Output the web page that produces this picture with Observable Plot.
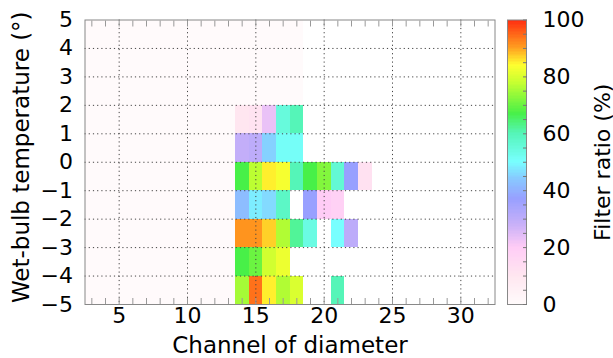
<!DOCTYPE html>
<html>
<head>
<meta charset="utf-8">
<script src="https://cdn.jsdelivr.net/npm/d3@7"></script>
<script src="https://cdn.jsdelivr.net/npm/@observablehq/plot@0.6"></script>
<style>
  html, body { margin: 0; padding: 0; background: #fff; }
  #wrap { position: relative; width: 613px; height: 358px; }
  #wrap svg { position: absolute; left: 0; top: 0; }
</style>
</head>
<body>
<div id="wrap"></div>
<script>
// Channels (x) and wet-bulb temperature rows (y, lower edge of each cell)
const channels = [3,4,5,6,7,8,9,10,11,12,13,14,15,16,17,18,19,20,21,22,23];
const temps = [-5,-4,-3,-2,-1,0,1,2,3,4];

// Filter ratio (%) per row, one value per channel above (null = no data)
const ratio_m5 = [0,0,0,0,0,0,0,0,0,0,0, 75,94,85,76,80, null,null,60,null,null];
const ratio_m4 = [0,0,0,0,0,0,0,0,0,0,0, 67,70,79,82,null, null,null,null,null,null];
const ratio_m3 = [0,0,0,0,0,0,0,0,0,0,0, 91,91,87,76,62, 54,null,50,30,null];
const ratio_m2 = [0,0,0,0,0,0,0,0,0,0,0, 42,48,46,58,null, 37,20,18,null,null];
const ratio_m1 = [0,0,0,0,0,0,0,0,0,0,0, 67,77,85,83,60, 67,72,56,37,12];
const ratio_0  = [0,0,0,0,0,0,0,0,0,0,0, 29,30,45,51,51, null,null,null,null,null];
const ratio_1  = [0,0,0,0,0,0,0,0,0,0,0, 10,11,23,55,60, null,null,null,null,null];
const ratio_2  = [0,0,0,0,0,0,0,0,0,0,0, 0,0,0,0,0, null,null,null,null,null];
const ratio_3  = [0,0,0,0,0,0,0,0,0,0,0, 0,0,0,0,0, null,null,null,null,null];
const ratio_4  = [0,0,0,0,0,0,0,0,0,0,0, 0,0,0,0,0, null,null,null,null,null];
const rows = [ratio_m5, ratio_m4, ratio_m3, ratio_m2, ratio_m1, ratio_0, ratio_1, ratio_2, ratio_3, ratio_4];

// Ticks
const xMajor = [5,10,15,20,25,30];
const xMinor = d3.range(3, 33);
const yTicks = [-5,-4,-3,-2,-1,0,1,2,3,4,5];
const yGrid = [-4,-3,-2,-1,0,1,2,3,4];
const cbTicks = [0,20,40,60,80,100];
const cbMinor = d3.range(0, 101, 5);

// Palette (stops of the colour bar)
const palStops  = [0, 10, 20, 28, 37, 44, 50, 60, 67, 78, 84, 90, 100];
const palColors = ["#fffafb","#ffe6f0","#ffccf6","#c8b0f8","#98a0ff","#88c8ff","#78ffff","#55f5b8","#48f048","#c8ff30","#ffff30","#ffa020","#ff2a10"];

const cells = [];
rows.forEach((row, i) => row.forEach((v, j) => {
  if (v !== null) cells.push({x: channels[j], y: temps[i], v});
}));

const colorOpt = {type: "linear", domain: palStops, range: palColors, interpolate: "rgb"};
const font = {fontFamily: "DejaVu Sans", fontSize: "22px", color: "#000", background: "transparent", overflow: "visible"};

const main = Plot.plot({
  width: 613, height: 358,
  marginLeft: 84.5, marginRight: 118.5, marginTop: 19.5, marginBottom: 54,
  style: font,
  x: {domain: [2.5, 32.5]},
  y: {domain: [-5, 5]},
  color: colorOpt,
  marks: [
    Plot.rect(cells, {x1: d => d.x - 0.5, x2: d => d.x + 0.5, y1: "y", y2: d => d.y + 1, fill: "v", shapeRendering: "crispEdges"}),
    Plot.ruleX(xMajor, {stroke: "#444", strokeDasharray: "1.2,3"}),
    Plot.ruleY(yGrid, {stroke: "#444", strokeDasharray: "1.2,3"}),
    Plot.frame({stroke: "#888"}),
    Plot.axisX(xMinor, {anchor: "bottom", tickSize: -6, tickFormat: () => "", stroke: "#999", label: null}),
    Plot.axisX(xMinor, {anchor: "top", tickSize: -6, tickFormat: () => "", stroke: "#999", label: null}),
    Plot.axisX(xMajor, {anchor: "bottom", tickSize: 0, tickPadding: 3, label: null, fontSize: 22}),
    Plot.axisY(yTicks, {anchor: "left", tickSize: 0, tickPadding: 12, label: null, fontSize: 22}),
    Plot.text(["Channel of diameter"], {frameAnchor: "bottom", lineAnchor: "middle", textAnchor: "middle", dy: 41, fontSize: 23}),
    Plot.text(["Wet-bulb temperature (°)"], {frameAnchor: "left", textAnchor: "middle", lineAnchor: "middle", rotate: -90, dx: -63.5, dy: -5, fontSize: 23})
  ]
});

const bar = Plot.plot({
  width: 613, height: 358,
  marginLeft: 507, marginRight: 87, marginTop: 19.5, marginBottom: 54,
  style: font,
  x: {domain: [0, 1], axis: null},
  y: {domain: [0, 100]},
  color: colorOpt,
  marks: [
    Plot.rect(d3.range(0, 100, 0.5), {x1: 0, x2: 1, y1: d => d, y2: d => d + 0.5, fill: d => d + 0.25, shapeRendering: "crispEdges"}),
    Plot.frame({stroke: "#888"}),
    Plot.axisY(cbMinor, {anchor: "right", tickSize: -4, tickFormat: () => "", stroke: "#777", label: null}),
    Plot.axisY(cbTicks, {anchor: "right", tickSize: 0, tickPadding: 16, label: null, fontSize: 22}),
    Plot.text(["Filter ratio (%)"], {frameAnchor: "right", textAnchor: "middle", lineAnchor: "middle", rotate: -90, dx: 76, fontSize: 22})
  ]
});

document.getElementById("wrap").append(main, bar);
</script>
</body>
</html>
